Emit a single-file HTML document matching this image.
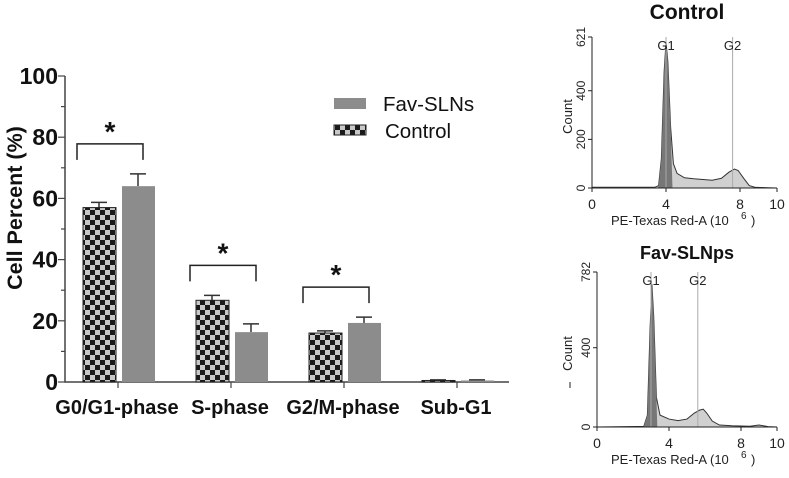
<!DOCTYPE html>
<html><head><meta charset="utf-8"><style>
body{margin:0;background:#fff;width:789px;height:473px;overflow:hidden}
svg{font-family:"Liberation Sans",Arial,sans-serif}
</style></head><body>
<svg id="c" width="789" height="473" viewBox="0 0 789 473">
<defs>
<pattern id="chk" width="10" height="10" patternUnits="userSpaceOnUse">
<rect width="10" height="10" fill="#c8c8c8"/><rect width="5" height="5" fill="#1a1a1a"/><rect x="5" y="5" width="5" height="5" fill="#1a1a1a"/>
</pattern>
</defs>
<g id="bar"></g>
<g id="h1"></g>
<g id="h2"></g>
</svg>
<script>
const categories=["G0/G1-phase","S-phase","G2/M-phase","Sub-G1"];
const controlVals=[57,26.7,16,0.5];
const controlErr=[1.7,1.6,0.7,0.2];
const favVals=[64,16.3,19.3,0.5];
const favErr=[4,2.7,1.9,0.2];
const yTicks=[0,20,40,60,80,100];
const sigGroups=[0,1,2];
const histX=[0,3.4,3.6,3.75,3.9,4.0,4.1,4.25,4.4,4.6,5,5.5,6,6.5,7,7.4,7.7,7.9,8.2,8.5,8.8,9.5,10];
const histControl=[3,3,10,120,480,600,520,250,100,60,42,38,35,32,40,65,78,72,40,10,3,1,0];
const histX2=[0,2.6,2.8,2.95,3.05,3.15,3.3,3.5,4,4.5,5,5.4,5.7,5.9,6.1,6.4,6.8,7.5,8.5,9,9.5,10];
const histFav=[0,3,60,500,720,560,150,60,40,32,40,70,85,90,70,30,10,6,4,10,2,0];
const ns="http://www.w3.org/2000/svg";
function mk(p,t,a,txt){const e=document.createElementNS(ns,t);for(const k in a)e.setAttribute(k,a[k]);if(txt!==undefined)e.textContent=txt;p.appendChild(e);return e;}
const bar=document.getElementById('bar');
const y=v=>382-v*3.06;
const gx=i=>118+i*113;
let ax=mk(bar,'path',{d:'M65,76V382H509',stroke:'#444','stroke-width':1.5,fill:'none'});


for(let v=0;v<=100;v+=10){let t=mk(bar,'line',{x1:v%20?61:58,x2:65,y1:y(v),y2:y(v),stroke:'#444','stroke-width':1.2});}
yTicks.forEach(v=>{let t=mk(bar,'text',{x:58,y:y(v)+8,'text-anchor':'end','font-size':23,'font-weight':'bold',fill:'#111'},v);});
for(let i=0;i<=4;i++){let t=mk(bar,'line',{x1:gx(i),x2:gx(i),y1:382,y2:388,stroke:'#444','stroke-width':1.2});}
let yl=mk(bar,'text',{x:0,y:0,transform:'translate(22,208) rotate(-90)','text-anchor':'middle','font-size':21.5,'font-weight':'bold',fill:'#111'},'Cell Percent (%)');

categories.forEach((c,i)=>{
 const cx=gx(i)-19,fx=gx(i)+20;
 let t=mk(bar,'text',{x:gx(i)-1,y:414,'text-anchor':'middle','font-size':20,'font-weight':'bold',fill:'#111'},c);
 
 [[cx,controlVals[i],controlErr[i]],[fx,favVals[i],favErr[i]]].forEach(([x,v,e])=>{
  let l=mk(bar,'path',{d:`M${x},${y(v)}V${y(v+e)}M${x-8},${y(v+e)}H${x+8}`,stroke:'#333','stroke-width':1.5,fill:'none'});
  
 });
 let b=mk(bar,'rect',{x:cx-16,y:y(controlVals[i]),width:33,height:382-y(controlVals[i]),fill:'url(#chk)',stroke:'#222','stroke-width':1});
 
 let f=mk(bar,'rect',{x:fx-16,y:y(favVals[i]),width:33,height:382-y(favVals[i]),fill:'#8c8c8c'});
 
});
sigGroups.forEach(i=>{
 const top=y(Math.max(controlVals[i]+controlErr[i],favVals[i]+favErr[i]))-30;
 const l=gx(i)-41,r=gx(i)+25;
 let br=mk(bar,'path',{d:`M${l},${top+16}V${top}H${r}V${top+16}`,stroke:'#222','stroke-width':1.5,fill:'none'});
 
 let s=mk(bar,'text',{x:(l+r)/2,y:top-3,'text-anchor':'middle','font-size':28,'font-weight':'bold',fill:'#111'},'*');
 
});
let lg=mk(bar,'g',{});
mk(lg,'rect',{x:334,y:98,width:32,height:11,fill:'#8c8c8c'});
mk(lg,'text',{x:383,y:111,'font-size':20.5,fill:'#111'},'Fav-SLNs');
mk(lg,'rect',{x:334,y:125,width:32,height:10,fill:'url(#chk)',stroke:'#222'});
mk(lg,'text',{x:385,y:138,'font-size':20.5,fill:'#111'},'Control');

function hist(g,title,titleY,tsize,x0,x1,y0,ytop,ymax,yt,xs,ys,g1,g2){
 const X=v=>x0+v*(x1-x0)/10,Y=v=>y0-v*(y0-ytop)/ymax;
 let t=mk(g,'text',{x:687,y:titleY,'text-anchor':'middle','font-size':tsize,'font-weight':'bold',fill:'#111'},title);
 
 let d='M'+X(xs[0])+','+y0;xs.forEach((x,i)=>d+='L'+X(x)+','+Y(ys[i]));d+='L'+X(10)+','+y0+'Z';
 let p=mk(g,'path',{d,fill:'#d0d0d0',stroke:'#333','stroke-width':1});
 
 let d2='M'+X(g1-0.45)+','+y0;xs.forEach((x,i)=>{if(x>g1-0.45&&x<g1+0.35)d2+='L'+X(x)+','+Y(ys[i]);});d2+='L'+X(g1+0.35)+','+y0+'Z';
 let p2=mk(g,'path',{d:d2,fill:'#777',stroke:'none'});
 [[g1,'G1'],[g2,'G2']].forEach(([v,n])=>{
  let l=mk(g,'line',{x1:X(v),x2:X(v),y1:ytop,y2:y0,stroke:'#aaa','stroke-width':1});
  let tx=mk(g,'text',{x:X(v),y:ytop+13,'text-anchor':'middle','font-size':13,fill:'#222'},n);
 });
 let a=mk(g,'path',{d:`M${x0},${ytop}V${y0}H${x1}`,stroke:'#222','stroke-width':1,fill:'none'});
 [0,4,8,10].forEach(v=>{mk(g,'line',{x1:X(v),x2:X(v),y1:y0,y2:y0+4,stroke:'#222'});
  let tl=mk(g,'text',{x:X(v),y:y0+21,'text-anchor':'middle','font-size':14,fill:'#222'},v);});
 yt.forEach(v=>{mk(g,'line',{x1:x0-4,x2:x0,y1:Y(v),y2:Y(v),stroke:'#222'});
  let tl=mk(g,'text',{x:0,y:0,transform:`translate(${x0-7},${Y(v)}) rotate(-90)`,'text-anchor':'middle','font-size':12,fill:'#222'},v);});
 let c=mk(g,'text',{x:0,y:0,transform:`translate(572,${(y0+ytop)/2+4}) rotate(-90)`,'text-anchor':'middle','font-size':13,fill:'#222'},'Count');
 let xt=mk(g,'text',{x:611,y:y0+37,'font-size':13,fill:'#222'},'PE-Texas Red-A  (10');
 mk(g,'text',{x:741,y:y0+31,'font-size':10,fill:'#222'},'6');
 mk(g,'text',{x:751,y:y0+37,'font-size':13,fill:'#222'},')');
}
hist(document.getElementById('h1'),'Control',19,21,592,777,188,37,621,[0,200,400,621],histX,histControl,4,7.6);
hist(document.getElementById('h2'),'Fav-SLNps',259,18,597,777,427,272,782,[0,400,782],histX2,histFav,3.0,5.6);
</script>
</body></html>
